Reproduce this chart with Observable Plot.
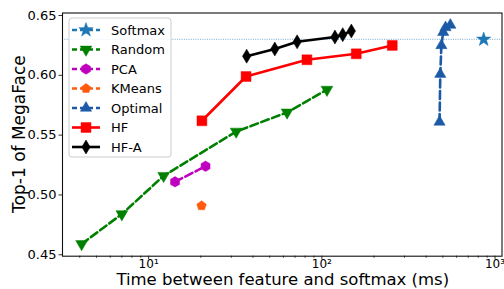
<!DOCTYPE html>
<html>
<head>
<meta charset="utf-8">
<script src="https://cdn.jsdelivr.net/npm/d3@7"></script>
<script src="https://cdn.jsdelivr.net/npm/@observablehq/plot@0.6"></script>
<style>
  html, body { margin: 0; padding: 0; background: white; }
  #chart { position: relative; width: 504px; height: 289px; }
</style>
</head>
<body>
<div id="chart"></div>
<script>
// ---- data ----
const softmaxX = [860];
const softmaxY = [0.630];
const softmaxLineY = [0.630];

const randomX = [4.1, 7.0, 12.2, 32, 63, 107];
const randomY = [0.459, 0.484, 0.516, 0.553, 0.569, 0.588];

const pcaX = [14.2, 21.3];
const pcaY = [0.511, 0.524];

const kmeansX = [20.2];
const kmeansY = [0.491];

const optimalX = [478, 483, 490, 502, 518, 552];
const optimalY = [0.561, 0.601, 0.625, 0.636, 0.640, 0.642];

const hfX = [20.3, 36.5, 82, 158, 255];
const hfY = [0.562, 0.599, 0.613, 0.618, 0.625];

const hfaX = [36.8, 53.5, 72, 119, 132, 148];
const hfaY = [0.616, 0.622, 0.628, 0.632, 0.634, 0.637];

const xTicks = [10, 100, 1000];
const xTickLabels = ["10\u00b9", "10\u00b2", "10\u00b3"];
const xMinorTicks = [4,5,6,7,8,9,20,30,40,50,60,70,80,90,200,300,400,500,600,700,800,900];
const yTicks = [0.45, 0.50, 0.55, 0.60, 0.65];

const xLabel = "Time between feature and softmax (ms)";
const yLabel = "Top-1 of MegaFace";

// ---- custom symbols ----
function polygon(n, rot, sx = 1, sy = 1) {
  return {
    draw(ctx, size) {
      const r = Math.sqrt(size / Math.PI);
      for (let i = 0; i < n; i++) {
        const a = rot + (i * 2 * Math.PI) / n;
        const px = r * sx * Math.cos(a), py = r * sy * Math.sin(a);
        if (i === 0) ctx.moveTo(px, py); else ctx.lineTo(px, py);
      }
      ctx.closePath();
    }
  };
}
const star5 = {
  draw(ctx, size) {
    const r = Math.sqrt(size / Math.PI), ri = r * 0.4;
    for (let i = 0; i < 10; i++) {
      const a = -Math.PI / 2 + (i * Math.PI) / 5;
      const rr = i % 2 === 0 ? r : ri;
      const px = rr * Math.cos(a), py = rr * Math.sin(a);
      if (i === 0) ctx.moveTo(px, py); else ctx.lineTo(px, py);
    }
    ctx.closePath();
  }
};
const triDown = polygon(3, Math.PI / 2);
const triUp = polygon(3, -Math.PI / 2);
const hexagon = polygon(6, -Math.PI / 2);
const pentagon = polygon(5, -Math.PI / 2);
const square = polygon(4, Math.PI / 4);
const thinDiamond = polygon(4, -Math.PI / 2, 0.6, 1);

const DASH = "8,3.5";
const series = [
  {name: "Softmax", xs: softmaxX, ys: softmaxY, color: "#1f77b4", symbol: star5, r: 7.5, dash: DASH, line: false},
  {name: "Random", xs: randomX, ys: randomY, color: "#008000", symbol: triDown, r: 6.8, dash: DASH, line: true},
  {name: "PCA", xs: pcaX, ys: pcaY, color: "#bf00bf", symbol: hexagon, r: 5.2, dash: DASH, line: true},
  {name: "KMeans", xs: kmeansX, ys: kmeansY, color: "#ff5a0e", symbol: pentagon, r: 5, dash: DASH, line: true},
  {name: "Optimal", xs: optimalX, ys: optimalY, color: "#1c5aa6", symbol: triUp, r: 6.5, dash: DASH, line: true},
  {name: "HF", xs: hfX, ys: hfY, color: "#ff0000", symbol: square, r: 7, dash: null, line: true},
  {name: "HF-A", xs: hfaX, ys: hfaY, color: "#000000", symbol: thinDiamond, r: 7, dash: null, line: true}
];

const marks = [];
// softmax horizontal reference
marks.push(Plot.ruleY(softmaxLineY, {stroke: "#8fbbdc", strokeWidth: 1.3, strokeDasharray: "1,1.3"}));
for (const s of series) {
  const data = s.xs.map((x, i) => ({x, y: s.ys[i]}));
  if (s.line && data.length > 1) {
    marks.push(Plot.line(data, {x: "x", y: "y", stroke: s.color, strokeWidth: 2.6,
      strokeDasharray: s.dash || undefined}));
  }
  marks.push(Plot.dot(data, {x: "x", y: "y", symbol: () => s.symbol, r: s.r,
    fill: s.color, stroke: s.color, strokeWidth: 0.5}));
}

const ML = 62, MR = 2.5, MT = 12.5, MB = 33.3, W = 504, H = 289;

const plot = Plot.plot({
  width: W, height: H,
  marginLeft: ML, marginRight: MR, marginTop: MT, marginBottom: MB,
  style: {fontFamily: "DejaVu Sans", fontSize: "13px", color: "black", background: "white", overflow: "visible"},
  x: {type: "log", domain: [3.18, 1097]},
  y: {domain: [0.4488, 0.6521]},
  marks: [
    ...marks,
    Plot.axisX({ticks: xMinorTicks, tickSize: 2, tickFormat: () => "", stroke: "#333", label: null}),
    Plot.axisX({ticks: xTicks, tickSize: 3.5, tickPadding: 0, tickFormat: d => xTickLabels[xTicks.indexOf(d)], fontSize: 12, stroke: "#333", label: null}),
    Plot.axisY({ticks: yTicks, tickSize: 3.5, tickPadding: 2.5, tickFormat: d3.format(".2f"), fontSize: 13, stroke: "#333", label: null}),
    Plot.frame({stroke: "#111", strokeWidth: 1.1})
  ]
});

document.getElementById("chart").appendChild(plot);

// ---- axis labels and legend ----
const svg = d3.select(plot);
svg.append("text")
  .attr("x", ML + (W - ML - MR) / 2 + 1).attr("y", 285)
  .attr("text-anchor", "middle").attr("font-size", 16.5).attr("fill", "black")
  .attr("font-family", "DejaVu Sans")
  .text(xLabel);
svg.append("text")
  .attr("transform", `translate(25,${MT + (H - MT - MB) / 2}) rotate(-90)`)
  .attr("text-anchor", "middle").attr("font-size", 17).attr("fill", "black")
  .attr("font-family", "DejaVu Sans")
  .text(yLabel);

const lg = svg.append("g").attr("transform", "translate(69,18)");
lg.append("rect").attr("x", 0).attr("y", 0).attr("width", 102).attr("height", 139)
  .attr("rx", 3).attr("fill", "white").attr("fill-opacity", 0.85)
  .attr("stroke", "#cccccc").attr("stroke-width", 1);
series.forEach((s, i) => {
  const cy = 12 + i * 19.5;
  lg.append("line").attr("x1", 3).attr("x2", 31).attr("y1", cy).attr("y2", cy)
    .attr("stroke", s.color).attr("stroke-width", 2.6)
    .attr("stroke-dasharray", s.dash ? "5,3" : null);
  const p = d3.path();
  s.symbol.draw(p, s.r * s.r * Math.PI);
  lg.append("path").attr("d", p.toString()).attr("transform", `translate(17,${cy})`)
    .attr("fill", s.color).attr("stroke", s.color).attr("stroke-width", 0.5);
  lg.append("text").attr("x", 42).attr("y", cy).attr("dy", "0.36em")
    .attr("text-anchor", "start")
    .attr("font-size", 13).attr("font-family", "DejaVu Sans").attr("fill", "black")
    .text(s.name);
});
</script>
</body>
</html>
